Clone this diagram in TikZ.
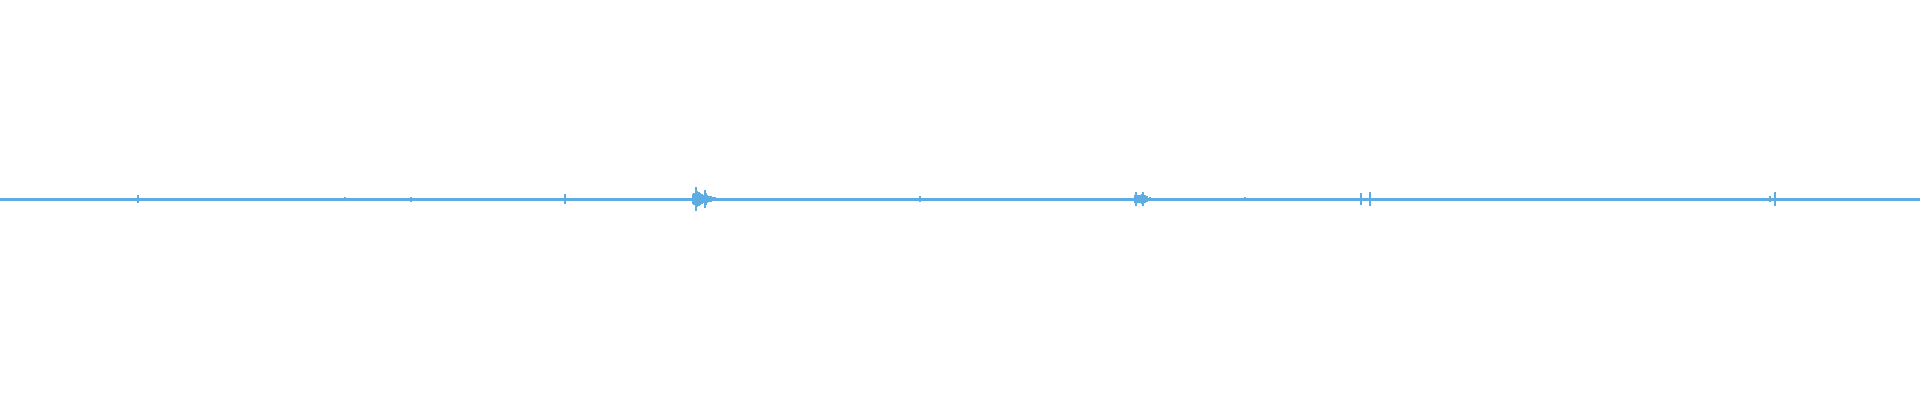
\documentclass[tikz,border=0pt]{standalone}
\usepackage{tikz}
\definecolor{wavecolor}{HTML}{5DADE2}
\tikzset{
    wave line/.style={draw=wavecolor,line width=0.6pt},
    wave burst/.style={draw=wavecolor,line width=0.35pt}
}
\begin{document}
\begin{tikzpicture}[x=0.01cm,y=0.01cm]
    \useasboundingbox (0,0) rectangle (1920,400);
    % base line
    \draw[wave line] (0,200.5) -- (1920,200.5);
    % single spikes: x / half height
    \foreach \x/\h in {35/1.2, 138/4, 230/1, 345/2, 411/2.5, 500/1, 545/1.5, 565/5,
                       920/3, 1000/1, 1245/2, 1252/1.5, 1361/6, 1370/7,
                       1480/1, 1640/1.5, 1648/1.2, 1770/3, 1775/7, 1850/1} {
        \draw[wave burst] (\x,200.5-\h) -- (\x,200.5+\h);
    }
    % bursts around the loud events
    \foreach \x/\h in {693/5, 694/6, 696/12, 697/8, 699/7, 700/6, 702/5, 703/4, 705/9,
                       706/6, 707/4, 709/3, 711/3, 713/2, 715/2, 718/1.5,
                       1135/4, 1136/7, 1138/4, 1140/4, 1142/5, 1143/7, 1145/4, 1147/3, 1150/2, 1154/1.5} {
        \draw[wave burst] (\x,200.5-\h) -- (\x,200.5+\h);
    }
\end{tikzpicture}
\end{document}
